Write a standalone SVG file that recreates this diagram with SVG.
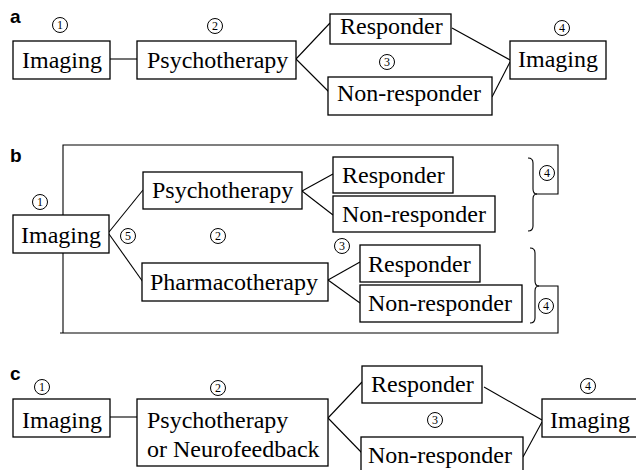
<svg xmlns="http://www.w3.org/2000/svg" width="636" height="470" viewBox="0 0 636 470">
<style>
.box{fill:#fff;stroke:#000;stroke-width:1.3}
.t{font-family:'Liberation Serif','DejaVu Serif',serif;font-size:24px;fill:#000}
.lbl{font-family:'Liberation Sans',Arial,sans-serif;font-size:19px;font-weight:bold;fill:#000}
.cn circle{fill:#fff;stroke:#000;stroke-width:1}
.cn text{font-family:'Liberation Serif','DejaVu Serif',serif;font-size:12px;text-anchor:middle;fill:#000}
.ln{fill:none;stroke:#000;stroke-width:1.1}
</style>
<rect width="636" height="470" fill="#fff"/>

<text class="lbl" x="10" y="23">a</text>
<text class="lbl" x="10" y="162">b</text>
<text class="lbl" x="10" y="380">c</text>

<g id="connectors" class="ln">
  <line x1="110" y1="59" x2="137" y2="59"/>
  <line x1="296" y1="59" x2="330" y2="23"/>
  <line x1="296" y1="59" x2="330" y2="93"/>
  <line x1="452" y1="28" x2="510" y2="60"/>
  <line x1="492" y1="97" x2="510" y2="62"/>
  <path d="M63,333 V145 H558 V194 H536"/>
  <path d="M538,286 H558 V333 H60"/>
  <path d="M528,158 Q533,158 533,163 V189 Q533,194 537,194 Q533,194 533,199 V226 Q533,231 528,231"/>
  <path d="M530,248 Q535,248 535,253 V281 Q535,286 539,286 Q535,286 535,291 V318 Q535,323 530,323"/>
  <line x1="109" y1="232" x2="143" y2="190"/>
  <line x1="109" y1="234" x2="143" y2="282"/>
  <line x1="302" y1="191" x2="333" y2="174"/>
  <line x1="302" y1="191" x2="333" y2="215"/>
  <line x1="328" y1="280" x2="360" y2="262"/>
  <line x1="328" y1="280" x2="360" y2="303"/>
  <line x1="110" y1="417" x2="137" y2="417"/>
  <line x1="328" y1="418" x2="362" y2="382"/>
  <line x1="328" y1="418" x2="362" y2="453"/>
  <line x1="484" y1="387" x2="542" y2="420"/>
  <line x1="523" y1="457" x2="542" y2="422"/>
</g>

<g id="a-imaging1"><rect class="box" x="13" y="41" width="97" height="38"/><text class="t" x="22" y="68">Imaging</text></g>
<g id="a-psycho"><rect class="box" x="137" y="41" width="159" height="38"/><text class="t" x="147" y="68">Psychotherapy</text></g>
<g id="a-resp"><rect class="box" x="330" y="14" width="121" height="30"/><text class="t" x="340" y="34">Responder</text></g>
<g id="a-nonresp"><rect class="box" x="328" y="77" width="164" height="38"/><text class="t" x="337" y="101">Non-responder</text></g>
<g id="a-imaging2"><rect class="box" x="510" y="41" width="96" height="38"/><text class="t" x="518" y="67">Imaging</text></g>
<g id="a-n1" class="cn"><circle cx="60" cy="25" r="7.5"/><text x="60" y="29">1</text></g>
<g id="a-n2" class="cn"><circle cx="215" cy="26" r="7.5"/><text x="215" y="30">2</text></g>
<g id="a-n3" class="cn"><circle cx="387" cy="62" r="7.5"/><text x="387" y="66">3</text></g>
<g id="a-n4" class="cn"><circle cx="562" cy="28" r="7.5"/><text x="562" y="32">4</text></g>

<g id="b-imaging"><rect class="box" x="13" y="215" width="96" height="38"/><text class="t" x="21" y="243">Imaging</text></g>
<g id="b-psycho"><rect class="box" x="143" y="172" width="159" height="37"/><text class="t" x="152" y="198">Psychotherapy</text></g>
<g id="b-pharma"><rect class="box" x="142" y="263" width="186" height="38"/><text class="t" x="150" y="290">Pharmacotherapy</text></g>
<g id="b-resp1"><rect class="box" x="333" y="157" width="120" height="36"/><text class="t" x="342" y="183">Responder</text></g>
<g id="b-nonresp1"><rect class="box" x="333" y="196" width="162" height="36"/><text class="t" x="342" y="222">Non-responder</text></g>
<g id="b-resp2"><rect class="box" x="360" y="245" width="120" height="37"/><text class="t" x="368" y="272">Responder</text></g>
<g id="b-nonresp2"><rect class="box" x="360" y="285" width="162" height="37"/><text class="t" x="368" y="311">Non-responder</text></g>
<g id="b-n1" class="cn"><circle cx="40" cy="202" r="7.5"/><text x="40" y="206">1</text></g>
<g id="b-n5" class="cn"><circle cx="128" cy="236" r="7.5"/><text x="128" y="240">5</text></g>
<g id="b-n2" class="cn"><circle cx="218" cy="236" r="7.5"/><text x="218" y="240">2</text></g>
<g id="b-n3" class="cn"><circle cx="342" cy="246" r="7.5"/><text x="342" y="250">3</text></g>
<g id="b-n4a" class="cn"><circle cx="547" cy="173" r="7.5"/><text x="547" y="177">4</text></g>
<g id="b-n4b" class="cn"><circle cx="546" cy="306" r="7.5"/><text x="546" y="310">4</text></g>

<g id="c-imaging1"><rect class="box" x="13" y="399" width="97" height="38"/><text class="t" x="22" y="428">Imaging</text></g>
<g id="c-psycho"><rect class="box" x="137" y="399" width="191" height="67"/><text class="t" x="147" y="428">Psychotherapy</text><text class="t" x="147" y="457">or Neurofeedback</text></g>
<g id="c-resp"><rect class="box" x="362" y="366" width="120" height="37"/><text class="t" x="371" y="392">Responder</text></g>
<g id="c-nonresp"><rect class="box" x="361" y="437" width="162" height="40"/><text class="t" x="368" y="463">Non-responder</text></g>
<g id="c-imaging2"><rect class="box" x="542" y="399" width="100" height="38"/><text class="t" x="550" y="428">Imaging</text></g>
<g id="c-n1" class="cn"><circle cx="42" cy="387" r="7.5"/><text x="42" y="391">1</text></g>
<g id="c-n2" class="cn"><circle cx="218" cy="388" r="7.5"/><text x="218" y="392">2</text></g>
<g id="c-n3" class="cn"><circle cx="435" cy="420" r="7.5"/><text x="435" y="424">3</text></g>
<g id="c-n4" class="cn"><circle cx="588" cy="386" r="7.5"/><text x="588" y="390">4</text></g>
</svg>
